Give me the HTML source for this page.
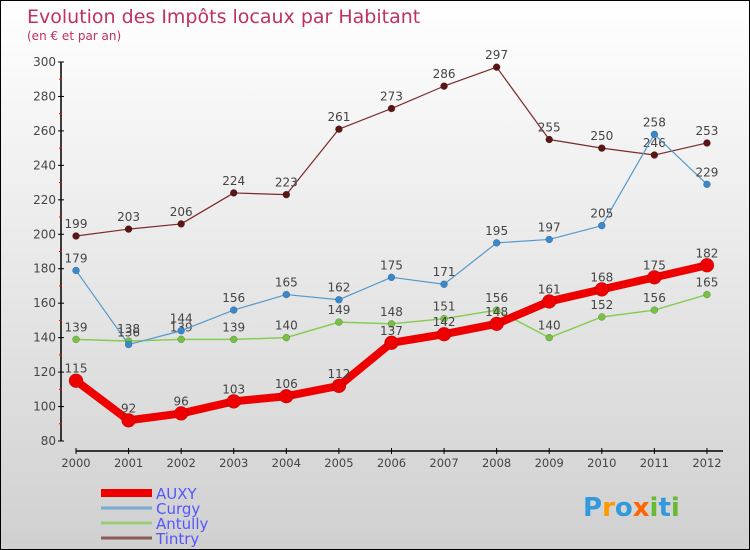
<!DOCTYPE html>
<html><head><meta charset="utf-8"><style>
body{margin:0}
#c{width:750px;height:550px;position:relative;box-sizing:border-box;border:1px solid #000;background:linear-gradient(#fff,#d0d0d0);overflow:hidden;font-family:"DejaVu Sans","Liberation Sans",sans-serif}
</style></head><body>
<div id="c">
<svg width="750" height="550" style="position:absolute;left:0;top:0" id="s">
<text x="26" y="22" font-size="19" fill="#c03060">Evolution des Impôts locaux par Habitant</text>
<text x="26" y="39" font-size="12" fill="#c03060">(en € et par an)</text>
</svg>
</div>
<script>
const years=[2000,2001,2002,2003,2004,2005,2006,2007,2008,2009,2010,2011,2012];
const auxy=[115,92,96,103,106,112,137,142,148,161,168,175,182];
const curgy=[179,136,144,156,165,162,175,171,195,197,205,258,229];
const antully=[139,138,139,139,140,149,148,151,156,140,152,156,165];
const tintry=[199,203,206,224,223,261,273,286,297,255,250,246,253];
const yTicks=[80,100,120,140,160,180,200,220,240,260,280,300];
const s=document.getElementById('s');const NS='http://www.w3.org/2000/svg';
const X=i=>75+i*52.58, Y=v=>440-(v-80)*(379/220);
function mk(t,a,p){const e=document.createElementNS(NS,t);for(const k in a)e.setAttribute(k,a[k]);(p||s).appendChild(e);return e;}
let ax=mk('line',{x1:60,y1:61,x2:60,y2:440,stroke:'#000','stroke-width':1.5});

let bx=mk('line',{x1:75,y1:450,x2:722,y2:450,stroke:'#000','stroke-width':1.5});

yTicks.forEach((v,i)=>{mk('line',{x1:57,x2:63,y1:Y(v),y2:Y(v),stroke:'#000'});
 if(i<yTicks.length-1)mk('line',{x1:58,x2:61,y1:Y(v+10),y2:Y(v+10),stroke:'#f00'});
 const t=mk('text',{x:55,y:Y(v)+4,'text-anchor':'end','font-size':12,fill:'#444'});t.textContent=v;
 });
years.forEach((y,i)=>{mk('line',{x1:X(i),x2:X(i),y1:447,y2:453,stroke:'#000'});
 const t=mk('text',{x:X(i),y:466,'text-anchor':'middle','font-size':11.5,fill:'#444'});t.textContent=y;
 });
function series(d,col,w,r,name,dot){
 const g=mk('g',{});
 mk('polyline',{points:d.map((v,i)=>X(i)+','+Y(v)).join(' '),fill:'none',stroke:col,'stroke-width':w,'stroke-linejoin':'round'},g);
 d.forEach((v,i)=>{const c=mk('circle',{cx:X(i),cy:Y(v),r:r,fill:dot,stroke:'rgba(0,0,0,0.3)','stroke-width':0.5},g);
  
  const t=mk('text',{x:X(i),y:Y(v)-8,'text-anchor':'middle','font-size':12,fill:'#444'},g);t.textContent=v;});
}
series(tintry,'#7a2a2a',1.2,3.5,'tintry','#5a1515');
series(antully,'#88cc55',1.5,3.5,'antully','#77c044');
series(curgy,'#5599cc',1.2,3.5,'curgy','#3a88cc');
series(auxy,'#ee0000',8,7,'auxy','#ee0000');
const leg=[['AUXY','#ee0000',8],['Curgy','#7aaad0',3],['Antully','#99cc77',3],['Tintry','#8a5a5a',3]];
leg.forEach((l,i)=>{const y=492+i*15;const g=mk('g',{});
 mk('line',{x1:100,x2:151,y1:y,y2:y,stroke:l[1],'stroke-width':l[2]},g);
 const t=mk('text',{x:155,y:y+6,'font-size':15,fill:'#5555ff'},g);t.textContent=l[0];});
const lg=mk('text',{x:582,y:515,'font-size':26,'font-weight':'bold',fill:'#3399dd'});

[['P','#3399dd'],['r','#ff9900'],['o','#3399dd'],['x','#ff6600'],['i','#66bb33'],['t','#3399dd'],['i','#66bb33']].forEach(c=>{const sp=mk('tspan',{fill:c[1]},lg);sp.textContent=c[0];});
</script>
</body></html>
